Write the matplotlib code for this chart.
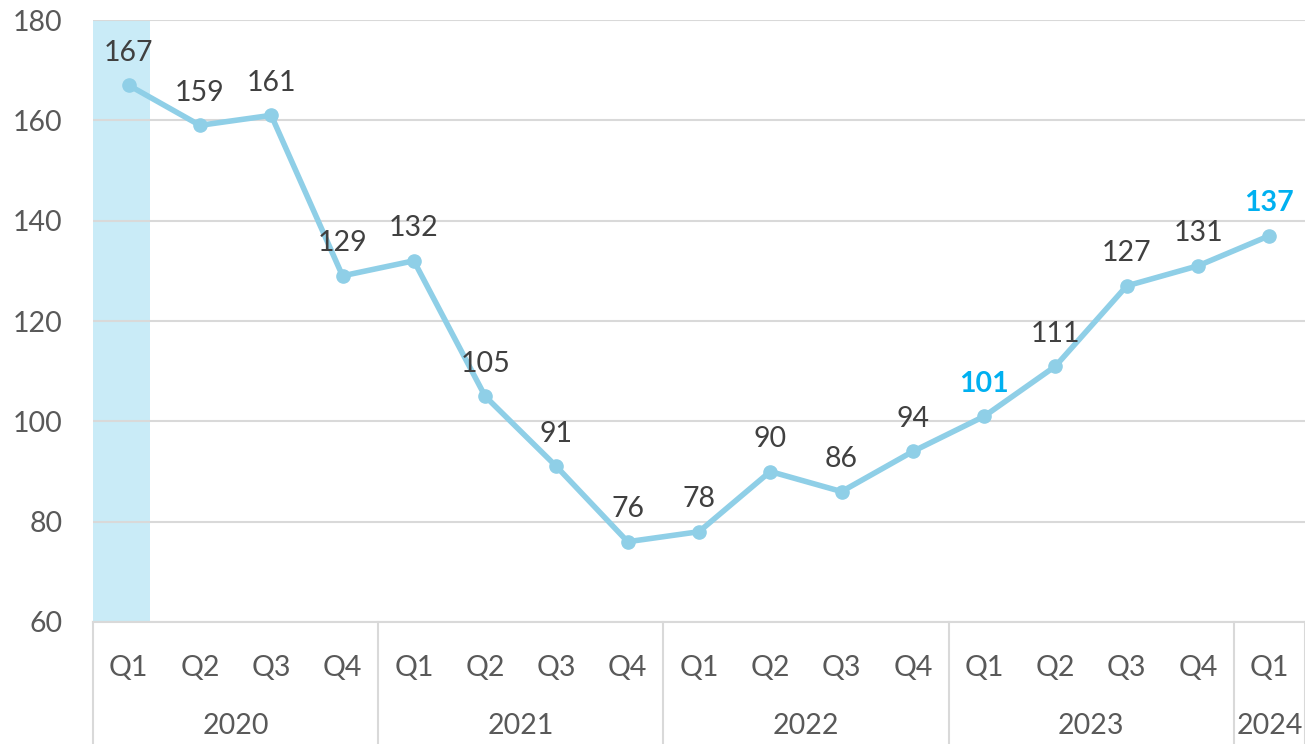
import matplotlib
matplotlib.use("Agg")
import matplotlib.pyplot as plt
import matplotlib.transforms as mtransforms

plt.rcParams["font.family"] = ["Lato", "DejaVu Sans"]

quarters = ["Q1", "Q2", "Q3", "Q4"] * 4 + ["Q1"]
years = ["2020", "2021", "2022", "2023", "2024"]
year_counts = [4, 4, 4, 4, 1]
values = [167, 159, 161, 129, 132, 105, 91, 76, 78, 90, 86, 94, 101, 111, 127, 131, 137]
highlight = {12, 16}

LINE = "#8FCFE7"
BAND = "#C9EBF7"
GRID = "#D9D9D9"
TEXT = "#404040"
TICK = "#595959"
ACCENT = "#00B0F0"
FS = 20.5

fig = plt.figure(figsize=(13.05, 7.44), dpi=100)
ax = fig.add_axes([93 / 1305, 1 - 622 / 744, 1 - 93 / 1305, (622 - 20) / 744])

x = list(range(len(values)))
ax.axvspan(-0.5, 0.3, color=BAND, lw=0, zorder=0)
ax.plot(x, values, color=LINE, lw=4, marker="o", ms=9.5, zorder=3)

for i, v in enumerate(values):
    hl = i in highlight
    ax.annotate(
        str(v), (i, v), xytext=(0, 14), textcoords="offset points",
        ha="center", va="bottom", fontsize=FS,
        color=ACCENT if hl else TEXT,
        fontweight="bold" if hl else "normal",
    )

ax.set_xlim(-0.5, len(values) - 0.5)
ax.set_ylim(60, 180)
ax.set_yticks(range(60, 181, 20))
ax.grid(axis="y", color=GRID, lw=1.5)
ax.set_axisbelow(True)
for s in ["top", "right", "left"]:
    ax.spines[s].set_visible(False)
ax.spines["bottom"].set_color(GRID)
ax.spines["bottom"].set_linewidth(1.5)
ax.tick_params(axis="y", length=0, pad=22, labelsize=FS, labelcolor=TICK)
ax.set_xticks(x)
ax.set_xticklabels([])
ax.tick_params(axis="x", length=0)

# two-level category axis: quarters, then years with separators
trans = mtransforms.blended_transform_factory(ax.transData, ax.transAxes)
for i, q in enumerate(quarters):
    ax.text(i, -0.076, q, transform=trans, ha="center", va="center",
            fontsize=FS, color=TICK)

start = -0.5
seps = [start]
for yr, n in zip(years, year_counts):
    ax.text(start + n / 2, -0.172, yr, transform=trans, ha="center", va="center",
            fontsize=FS, color=TICK)
    start += n
    seps.append(start)
for s in seps:
    ax.plot([s, s], [0, -0.21], transform=trans, color=GRID, lw=1.5, clip_on=False)

fig.savefig("out.png", dpi=100)
